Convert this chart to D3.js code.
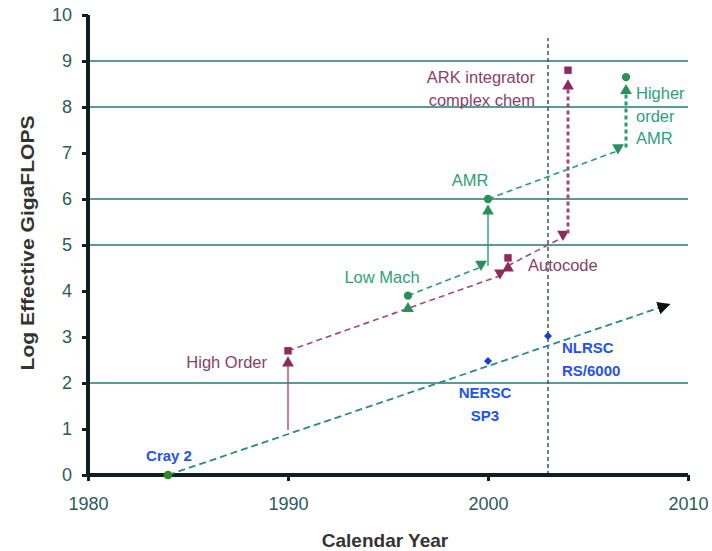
<!DOCTYPE html>
<html><head><meta charset="utf-8">
<script src="https://cdn.jsdelivr.net/npm/d3@7"></script>
<style>
html,body{margin:0;padding:0;background:#fff;}
svg{display:block;font-family:"Liberation Sans",Arial,sans-serif;}
</style></head>
<body><svg id="c" width="712" height="551"></svg>
<script>
// ---- data ----
const xDomain = [1980, 2010];
const yDomain = [0, 10];
const xTicks = [1980, 1990, 2000, 2010];
const yTicks = [0, 1, 2, 3, 4, 5, 6, 7, 8, 9, 10];
const gridValues = [2, 5, 6, 8, 9];
const cutoffYear = 2003;

// machine trend (year, log GF)
const machineTrend = [[1984, 0], [2009, 3.7]];
const machinePoints = [
  {year: 1984, value: 0, shape: "circle"},
  {year: 2000, value: 2.48, shape: "diamond"},
  {year: 2003, value: 3.02, shape: "diamond"}
];
const machineLabels = [
  {lines: ["Cray 2"], year: 1984.05, value: 0.43, anchor: "middle"},
  {lines: ["NERSC", "SP3"], year: 1999.85, value: 1.8, anchor: "middle"},
  {lines: ["NLRSC", "RS/6000"], year: 2003.7, value: 2.78, anchor: "start"}
];

// algorithm improvements (magenta): segments [fromYear, fromVal, toYear, toVal, style, head]
const algoSegments = [
  [1990, 0.98, 1990, 2.5, "solid", "up"],
  [1990, 2.7, 2000.6, 4.33, "dash", "down"],
  [2001, 4.55, 2003.75, 5.17, "dash", "down"],
  [2004, 5.25, 2004, 8.52, "dot", "up"]
];
const algoMarkers = [[1990, 2.7], [2001, 4.72], [2004, 8.8]];
const algoHeads = [[2001, 4.5, "up"]];
const algoLabels = [
  {lines: ["High Order"], year: 1988.95, value: 2.46, anchor: "end"},
  {lines: ["Autocode"], year: 2002, value: 4.57, anchor: "start"},
  {lines: ["ARK integrator", "complex chem"], year: 2002.35, value: 8.65, anchor: "end"}
];

// AMR improvements (green)
const amrSegments = [
  [1996, 3.6, 1996, 3.68, "solid", "up"],
  [1996, 3.9, 1999.65, 4.52, "dash", "down"],
  [2000, 4.55, 2000, 5.8, "solid", "up"],
  [2000, 6.0, 2006.5, 7.05, "dash", "down"],
  [2006.9, 7.12, 2006.9, 8.42, "dot", "up"]
];
const amrMarkers = [[1996, 3.9], [2000, 6.0], [2006.9, 8.65]];
const amrLabels = [
  {lines: ["Low Mach"], year: 1994.7, value: 4.3, anchor: "middle"},
  {lines: ["AMR"], year: 1999.1, value: 6.41, anchor: "middle"},
  {lines: ["Higher", "order", "AMR"], year: 2007.4, value: 8.3, anchor: "start"}
];

// ---- drawing ----
const svg = d3.select("#c");
const x = d3.scaleLinear().domain(xDomain).range([88, 688]);
const y = d3.scaleLinear().domain(yDomain).range([475, 15]);

const AXIS = "#0f1f1f", GRID = "#1f7a7a", TICKTXT = "#2f5a5a";
const MAG = "#8e2a5e", MAGTXT = "#8a3e68";
const GRN = "#2a8f5a", GRNTXT = "#2ea079";
const TEAL = "#2a8a8a", BLUE = "#2352f0";

// gridlines
svg.append("g").selectAll("line").data(gridValues).join("line")
  .attr("x1", x(1980)).attr("x2", x(2010))
  .attr("y1", d => y(d)).attr("y2", d => y(d))
  .attr("stroke", GRID).attr("stroke-width", 1.6);

// cutoff dashed vertical
svg.append("line")
  .attr("x1", x(cutoffYear)).attr("x2", x(cutoffYear))
  .attr("y1", y(0)).attr("y2", 38)
  .attr("stroke", "#2f5f5f").attr("stroke-width", 1.5)
  .attr("stroke-dasharray", "4,3");

// axes
const xAxis = d3.axisBottom(x).tickValues(xTicks).tickFormat(d3.format("d")).tickSize(6).tickPadding(16);
const yAxis = d3.axisLeft(y).tickValues(yTicks).tickSize(6).tickPadding(10);
const gx = svg.append("g").attr("transform", `translate(0,${y(0)})`).call(xAxis);
const gy = svg.append("g").attr("transform", `translate(${x(1980)},0)`).call(yAxis);
[gx, gy].forEach(g => {
  g.select(".domain").attr("stroke", AXIS).attr("stroke-width", 4);
  g.selectAll(".tick line").attr("stroke", AXIS).attr("stroke-width", 3);
  g.selectAll(".tick text").attr("fill", TICKTXT).attr("font-size", 18)
    .attr("font-family", "'Liberation Sans',Arial,sans-serif");
});
gx.select(".domain").attr("d", `M${x(1980)},0H${x(2010)}`);
gy.select(".domain").attr("d", `M0,${y(0)}V${y(10)}`);

// axis titles
svg.append("text").attr("x", 385).attr("y", 547).attr("text-anchor", "middle")
  .attr("font-size", 19).attr("font-weight", "bold").attr("fill", "#333")
  .text("Calendar Year");
svg.append("text").attr("transform", `translate(34,243) rotate(-90)`)
  .attr("text-anchor", "middle").attr("font-size", 19).attr("font-weight", "bold").attr("fill", "#333")
  .attr("textLength", 255).attr("lengthAdjust", "spacingAndGlyphs")
  .text("Log Effective GigaFLOPS");

// arrow marker for machine trend
svg.append("defs").append("marker").attr("id", "ah")
  .attr("viewBox", "0 0 10 10").attr("refX", 8).attr("refY", 5)
  .attr("markerWidth", 13).attr("markerHeight", 13).attr("markerUnits", "userSpaceOnUse")
  .attr("orient", "auto")
  .append("path").attr("d", "M0,0L10,5L0,10Z").attr("fill", "#111");

const line = d3.line().x(d => x(d[0])).y(d => y(d[1]));
svg.append("path").datum(machineTrend).attr("d", line)
  .attr("fill", "none").attr("stroke", TEAL).attr("stroke-width", 1.8)
  .attr("stroke-dasharray", "7,4").attr("marker-end", "url(#ah)");

// machine points
machinePoints.forEach(p => {
  const isC = p.shape === "circle";
  svg.append("path").attr("d", d3.symbol(isC ? d3.symbolCircle : d3.symbolSquare, isC ? 60 : 32)())
    .attr("transform", `translate(${x(p.year)},${y(p.value)}) rotate(${isC ? 0 : 45})`)
    .attr("fill", isC ? "#2a8a2a" : "#1a3fd0");
});

function drawLabels(labels, color, weight, size) {
  labels.forEach(l => {
    const t = svg.append("text").attr("text-anchor", l.anchor)
      .attr("font-size", size).attr("font-weight", weight).attr("fill", color);
    l.lines.forEach((s, i) => {
      t.append("tspan").attr("x", x(l.year)).attr("y", y(l.value) + 6 + i * 22.5).text(s);
    });
  });
}
drawLabels(machineLabels, BLUE, "bold", 15);

const triUp = d3.symbol(d3.symbolTriangle, 60)();
function head(px, py, dir, color) {
  svg.append("path").attr("d", triUp)
    .attr("transform", `translate(${px},${py}) rotate(${dir === "up" ? 0 : 180})`)
    .attr("fill", color);
}

function drawSeries(segs, markers, markerShape, color, lineColor) {
  segs.forEach(s => {
    const [x0, y0, x1, y1, style, h] = s;
    const el = svg.append("line")
      .attr("x1", x(x0)).attr("y1", y(y0)).attr("x2", x(x1)).attr("y2", y(y1))
      .attr("stroke", lineColor);
    if (style === "solid") el.attr("stroke-width", 1.4);
    if (style === "dash") el.attr("stroke-width", 1.6).attr("stroke-dasharray", "6,4");
    if (style === "dot") el.attr("stroke-width", 3).attr("stroke-dasharray", "4,3");
    head(x(x1), y(y1) + (h === "up" ? 3 : -3), h, color);
  });
  markers.forEach(m => {
    svg.append("path").attr("d", d3.symbol(markerShape, 55)())
      .attr("transform", `translate(${x(m[0])},${y(m[1])})`).attr("fill", color);
  });
}
drawSeries(algoSegments, algoMarkers, d3.symbolSquare, MAG, "#a04a7a");
algoHeads.forEach(hh => head(x(hh[0]), y(hh[1]), hh[2], MAG));
drawSeries(amrSegments, amrMarkers, d3.symbolCircle, GRN, "#2a9a7a");

drawLabels(algoLabels, MAGTXT, "normal", 16.5);
drawLabels(amrLabels, GRNTXT, "normal", 16.5);
</script></body></html>
